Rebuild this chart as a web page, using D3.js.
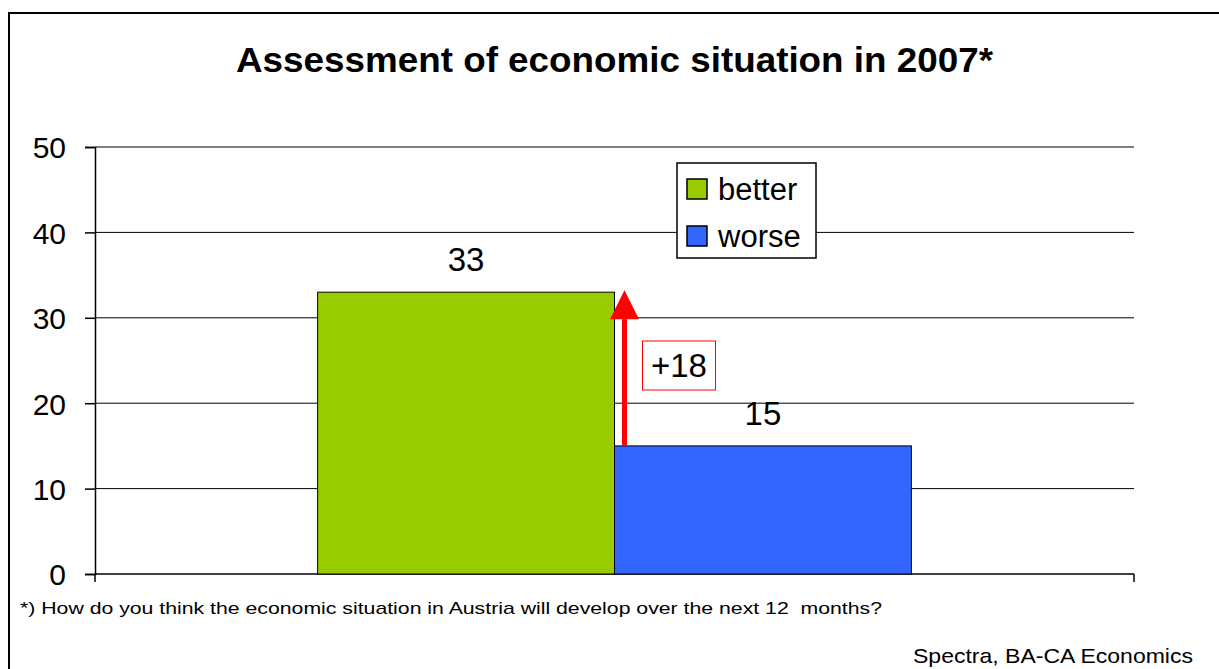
<!DOCTYPE html>
<html>
<head>
<meta charset="utf-8">
<script src="https://cdn.jsdelivr.net/npm/d3@7"></script>
<style>
  html, body { margin: 0; padding: 0; background: #fff; }
  svg { display: block; font-family: "Liberation Sans", Arial, sans-serif; }
</style>
</head>
<body>
<svg id="chart" width="1219" height="669"></svg>
<script>
// Survey result: share of respondents (%) expecting the economy to get better / worse
const categories = ["2007"];
const seriesNames = ["better", "worse"];
const seriesValues = [33, 15];
const seriesColors = ["#99CC00", "#3366FF"];
const yTicks = [0, 10, 20, 30, 40, 50];

const titleText = "Assessment of economic situation in 2007*";
const footnoteText = "*) How do you think the economic situation in Austria will develop over the next 12  months?";
const sourceText = "Spectra, BA-CA Economics";

const svg = d3.select("#chart");
const W = 1219, H = 669;
const plot = { left: 95, right: 1134, top: 147, bottom: 574 };

// Outer frame
svg.append("rect")
  .attr("x", 9).attr("y", 13)
  .attr("width", W + 20).attr("height", H + 20)
  .attr("fill", "#fff").attr("stroke", "#000").attr("stroke-width", 2);

// Title
svg.append("text")
  .attr("x", 236).attr("y", 72)
  .attr("font-size", 35).attr("font-weight", "bold")
  .attr("textLength", 757).attr("lengthAdjust", "spacingAndGlyphs")
  .text(titleText);

// Scales
const x = d3.scaleBand().domain(categories)
  .range([plot.left, plot.right]).paddingInner(0).paddingOuter(0.375);
const xs = d3.scaleBand().domain(seriesNames).range([0, x.bandwidth()]);
const y = d3.scaleLinear().domain([0, 50]).range([plot.bottom, plot.top]);

// Horizontal gridlines
svg.append("g").selectAll("line")
  .data(yTicks.filter(d => d > 0))
  .join("line")
  .attr("x1", plot.left).attr("x2", plot.right)
  .attr("y1", d => y(d)).attr("y2", d => y(d))
  .attr("stroke", "#000").attr("stroke-width", 1);

// Y axis
const yAxis = d3.axisLeft(y).tickValues(yTicks).tickSize(10).tickPadding(19);
const gy = svg.append("g").attr("transform", `translate(${plot.left},0)`).call(yAxis);
gy.select(".domain").attr("stroke", "#000").attr("stroke-width", 1.5);
gy.selectAll(".tick line").attr("stroke", "#000").attr("stroke-width", 1.5);
gy.selectAll(".tick text")
  .attr("font-family", "Liberation Sans, Arial, sans-serif")
  .attr("font-size", 30).attr("fill", "#000").attr("dy", "0.36em");

// X axis line with ticks at the category boundaries
const gx = svg.append("g");
gx.append("line")
  .attr("x1", plot.left).attr("x2", plot.right)
  .attr("y1", y(0)).attr("y2", y(0))
  .attr("stroke", "#000").attr("stroke-width", 1.5);
gx.selectAll("line.edge")
  .data(x.range())
  .join("line").attr("class", "edge")
  .attr("x1", d => d).attr("x2", d => d)
  .attr("y1", y(0)).attr("y2", y(0) + 8)
  .attr("stroke", "#000").attr("stroke-width", 1.5);

// Bars
const barData = seriesNames.map((s, i) => ({ name: s, value: seriesValues[i], color: seriesColors[i] }));
const cat = categories[0];
svg.append("g").selectAll("rect")
  .data(barData)
  .join("rect")
  .attr("x", d => x(cat) + xs(d.name))
  .attr("y", d => y(d.value))
  .attr("width", xs.bandwidth())
  .attr("height", d => y(0) - y(d.value))
  .attr("fill", d => d.color)
  .attr("stroke", "#000").attr("stroke-width", 1);

// Value labels
svg.append("g").selectAll("text")
  .data(barData)
  .join("text")
  .attr("x", d => x(cat) + xs(d.name) + xs.bandwidth() / 2)
  .attr("y", d => y(d.value) - 21)
  .attr("text-anchor", "middle")
  .attr("font-size", 33)
  .text(d => d.value);

// Difference arrow from "worse" up to "better"
const diff = seriesValues[0] - seriesValues[1];
const ax = x(cat) + xs("worse") + 10;
const tipY = y(seriesValues[0]) - 2;
const headH = 29, headW = 29;
svg.append("line")
  .attr("x1", ax).attr("x2", ax)
  .attr("y1", y(seriesValues[1])).attr("y2", tipY + headH)
  .attr("stroke", "#FF0000").attr("stroke-width", 5);
svg.append("path")
  .attr("d", `M${ax},${tipY} L${ax + headW / 2},${tipY + headH} L${ax - headW / 2},${tipY + headH} Z`)
  .attr("fill", "#FF0000");

// Difference label box
const lbl = svg.append("g");
lbl.append("rect")
  .attr("x", ax + 18).attr("y", 341)
  .attr("width", 73).attr("height", 49)
  .attr("fill", "#fff").attr("stroke", "#FF0000").attr("stroke-width", 1);
lbl.append("text")
  .attr("x", ax + 18 + 36.5).attr("y", 377)
  .attr("text-anchor", "middle")
  .attr("font-size", 33)
  .text("+" + diff);

// Legend
const lg = svg.append("g");
lg.append("rect")
  .attr("x", 677).attr("y", 163).attr("width", 139).attr("height", 95)
  .attr("fill", "#fff").attr("stroke", "#000").attr("stroke-width", 1.5);
const items = lg.selectAll("g.item").data(barData).join("g").attr("class", "item")
  .attr("transform", (d, i) => `translate(687,${179 + i * 47})`);
items.append("rect")
  .attr("width", 20).attr("height", 20)
  .attr("fill", d => d.color).attr("stroke", "#000").attr("stroke-width", 1.5);
items.append("text")
  .attr("x", 31).attr("y", 21)
  .attr("font-size", 31)
  .text(d => d.name);

// Footnote and source
svg.append("text")
  .attr("x", 20).attr("y", 614)
  .attr("font-size", 17)
  .attr("textLength", 862).attr("lengthAdjust", "spacingAndGlyphs")
  .attr("xml:space", "preserve")
  .style("white-space", "pre")
  .text(footnoteText);
svg.append("text")
  .attr("x", 913).attr("y", 663)
  .attr("font-size", 21)
  .attr("textLength", 280).attr("lengthAdjust", "spacingAndGlyphs")
  .text(sourceText);
</script>
</body>
</html>
